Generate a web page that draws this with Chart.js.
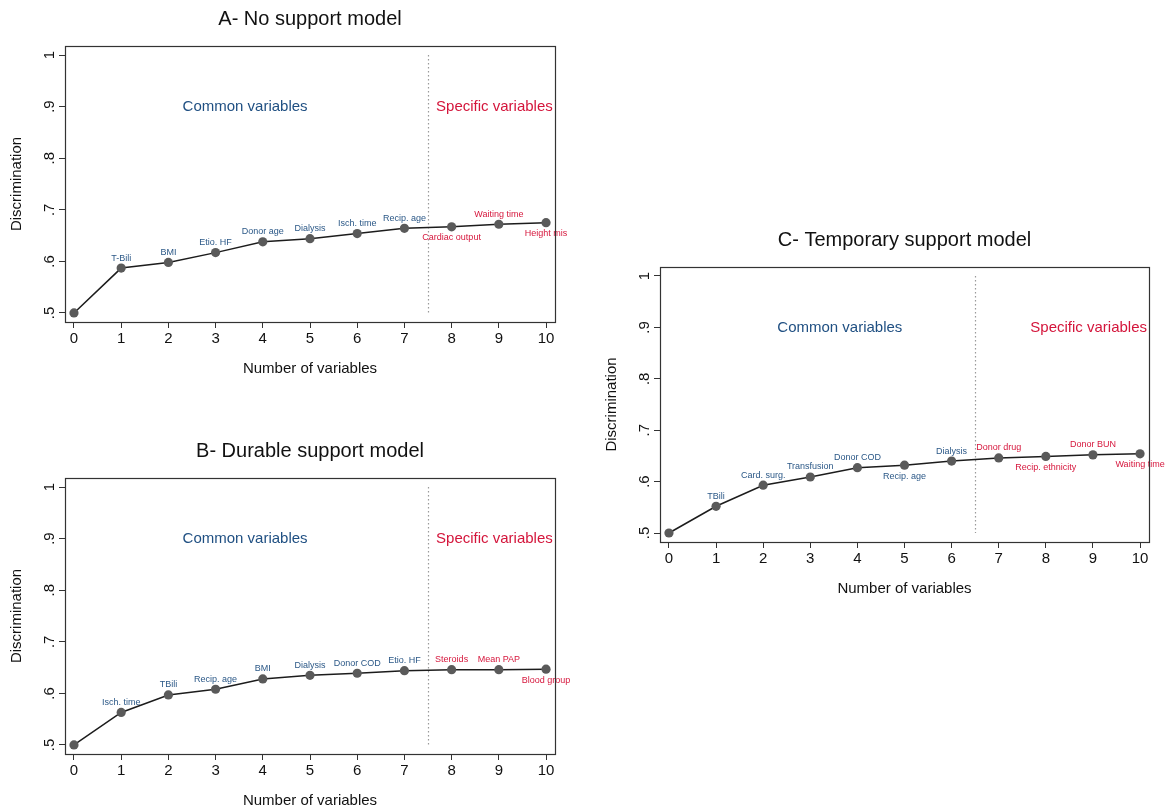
<!DOCTYPE html>
<html>
<head>
<meta charset="utf-8">
<script src="https://cdn.jsdelivr.net/npm/chart.js@4.4.1/dist/chart.umd.min.js"></script>
<style>
body { margin: 0; background: #fff; width: 1168px; height: 809px; position: relative; overflow: hidden; }
canvas { position: absolute; }
</style>
</head>
<body>
<canvas id="chartA" width="580" height="395" style="left:0;top:0"></canvas>
<canvas id="chartB" width="580" height="378" style="left:0;top:431px"></canvas>
<canvas id="chartC" width="578" height="389" style="left:590px;top:220px"></canvas>
<script>
// Shared axes
const xValues = [0, 1, 2, 3, 4, 5, 6, 7, 8, 9, 10];
const yTicks = [0.5, 0.6, 0.7, 0.8, 0.9, 1];
const yTickLabels = ['.5', '.6', '.7', '.8', '.9', '1'];

// A- No support model
const aValues = [0.500, 0.587, 0.598, 0.617, 0.638, 0.644, 0.654, 0.664, 0.667, 0.672, 0.675];
const aLabels = ['', 'T-Bili', 'BMI', 'Etio. HF', 'Donor age', 'Dialysis', 'Isch. time', 'Recip. age', 'Cardiac output', 'Waiting time', 'Height mis'];
const aLabelPos = ['', 'up', 'up', 'up', 'up', 'up', 'up', 'up', 'down', 'up', 'down'];

// B- Durable support model
const bValues = [0.500, 0.563, 0.597, 0.608, 0.628, 0.635, 0.639, 0.644, 0.646, 0.646, 0.647];
const bLabels = ['', 'Isch. time', 'TBili', 'Recip. age', 'BMI', 'Dialysis', 'Donor COD', 'Etio. HF', 'Steroids', 'Mean PAP', 'Blood group'];
const bLabelPos = ['', 'up', 'up', 'up', 'up', 'up', 'up', 'up', 'up', 'up', 'down'];

// C- Temporary support model
const cValues = [0.500, 0.552, 0.593, 0.609, 0.627, 0.632, 0.640, 0.646, 0.649, 0.652, 0.654];
const cLabels = ['', 'TBili', 'Card. surg.', 'Transfusion', 'Donor COD', 'Recip. age', 'Dialysis', 'Donor drug', 'Recip. ethnicity', 'Donor BUN', 'Waiting time'];
const cLabelPos = ['', 'up', 'up', 'up', 'up', 'down', 'up', 'up', 'down', 'up', 'down'];

const FONT = '"Liberation Sans", Arial, Helvetica, sans-serif';
const BLUE = '#2b5887', RED = '#d6173d';
const BIG_BLUE = '#1f4f82', BIG_RED = '#d4153b';

// Titles, frame, rotated y labels, divider and point labels
function decor(cfg) {
    return {
        id: 'decor',
        beforeDraw(chart) {
            const c = chart.ctx;
            c.save(); c.fillStyle = '#fff'; c.fillRect(0, 0, chart.width, chart.height); c.restore();
        },
        beforeDatasetsDraw(chart) {
            const c = chart.ctx, xs = chart.scales.x, ys = chart.scales.y;
            const x = Math.round(xs.getPixelForValue(cfg.divider)) + 0.5;
            c.save();
            c.strokeStyle = '#9a9a9a'; c.lineWidth = 1.2; c.setLineDash([1.5, 2.5]);
            c.beginPath(); c.moveTo(x, ys.getPixelForValue(1)); c.lineTo(x, ys.getPixelForValue(0.5)); c.stroke();
            c.restore();
        },
        afterDatasetsDraw(chart) {
            const c = chart.ctx, xs = chart.scales.x, ys = chart.scales.y;
            c.save();
            c.font = '9px ' + FONT; c.textAlign = 'center'; c.textBaseline = 'middle';
            xValues.forEach((v, i) => {
                if (!cfg.labels[i]) return;
                const px = xs.getPixelForValue(v), py = ys.getPixelForValue(cfg.values[i]);
                c.fillStyle = v > cfg.divider ? RED : BLUE;
                c.fillText(cfg.labels[i], px, cfg.pos[i] === 'up' ? py - 10 : py + 11);
            });
            c.font = '15px ' + FONT; c.textAlign = 'left';
            c.fillStyle = BIG_BLUE;
            c.fillText('Common variables', xs.getPixelForValue(2.3), ys.getPixelForValue(0.9));
            c.fillStyle = BIG_RED;
            c.fillText('Specific variables', xs.getPixelForValue(7.67), ys.getPixelForValue(0.9));
            c.restore();
        },
        afterDraw(chart) {
            const c = chart.ctx, ca = chart.chartArea, ys = chart.scales.y;
            c.save();
            c.strokeStyle = '#333'; c.lineWidth = 1.2;
            c.strokeRect(ca.left + 0.5, ca.top + 0.5, ca.right - ca.left, ca.bottom - ca.top);
            c.fillStyle = '#111'; c.textAlign = 'center'; c.textBaseline = 'middle';
            c.font = '15px ' + FONT;
            yTicks.forEach((v, i) => {
                c.save();
                c.translate(ca.left - 15, ys.getPixelForValue(v));
                c.rotate(-Math.PI / 2);
                c.fillText(yTickLabels[i], 0, 0);
                c.restore();
            });
            c.save();
            c.translate(ca.left - 48, (ca.top + ca.bottom) / 2);
            c.rotate(-Math.PI / 2);
            c.fillText('Discrimination', 0, 0);
            c.restore();
            c.fillText('Number of variables', (ca.left + ca.right) / 2, ca.bottom + 47);
            c.font = '20px ' + FONT;
            c.fillText(cfg.title, (ca.left + ca.right) / 2, ca.top - 27);
            c.restore();
        }
    };
}

function makeChart(id, cfg) {
    const canvas = document.getElementById(id);
    const H = canvas.height;
    return new Chart(canvas, {
        type: 'line',
        data: {
            datasets: [{
                data: xValues.map((x, i) => ({ x, y: cfg.values[i] })),
                borderColor: '#1c1c1c', borderWidth: 1.5, tension: 0,
                pointRadius: 4.6, pointBackgroundColor: '#5a5a5a', pointBorderWidth: 0
            }]
        },
        options: {
            responsive: false, animation: false, events: [],
            layout: { padding: { top: cfg.top, right: canvas.width - cfg.plotRight, left: 0, bottom: 0 } },
            plugins: { legend: { display: false }, tooltip: { enabled: false } },
            scales: {
                x: {
                    type: 'linear', min: -0.19, max: 10.19,
                    afterBuildTicks: s => { s.ticks = xValues.map(v => ({ value: v })); },
                    afterFit: s => { s.height = H - cfg.bottom; },
                    grid: { drawOnChartArea: false, tickLength: 6, color: '#333' },
                    border: { display: false },
                    ticks: { font: { family: FONT, size: 15 }, color: '#111', padding: 2, maxRotation: 0, autoSkip: false }
                },
                y: {
                    min: 0.4825, max: 1.0175,
                    afterBuildTicks: s => { s.ticks = yTicks.map(v => ({ value: v })); },
                    afterFit: s => { s.width = cfg.plotLeft; },
                    grid: { drawOnChartArea: false, tickLength: 6, color: '#333' },
                    border: { display: false },
                    ticks: { display: false }
                }
            }
        },
        plugins: [decor(cfg)]
    });
}

makeChart('chartA', { title: 'A- No support model', values: aValues, labels: aLabels, pos: aLabelPos, divider: 7.5, top: 46, bottom: 322, plotLeft: 65, plotRight: 555 });
makeChart('chartB', { title: 'B- Durable support model', values: bValues, labels: bLabels, pos: bLabelPos, divider: 7.5, top: 47, bottom: 323, plotLeft: 65, plotRight: 555 });
makeChart('chartC', { title: 'C- Temporary support model', values: cValues, labels: cLabels, pos: cLabelPos, divider: 6.5, top: 47, bottom: 322, plotLeft: 70, plotRight: 559 });
</script>
</body>
</html>
